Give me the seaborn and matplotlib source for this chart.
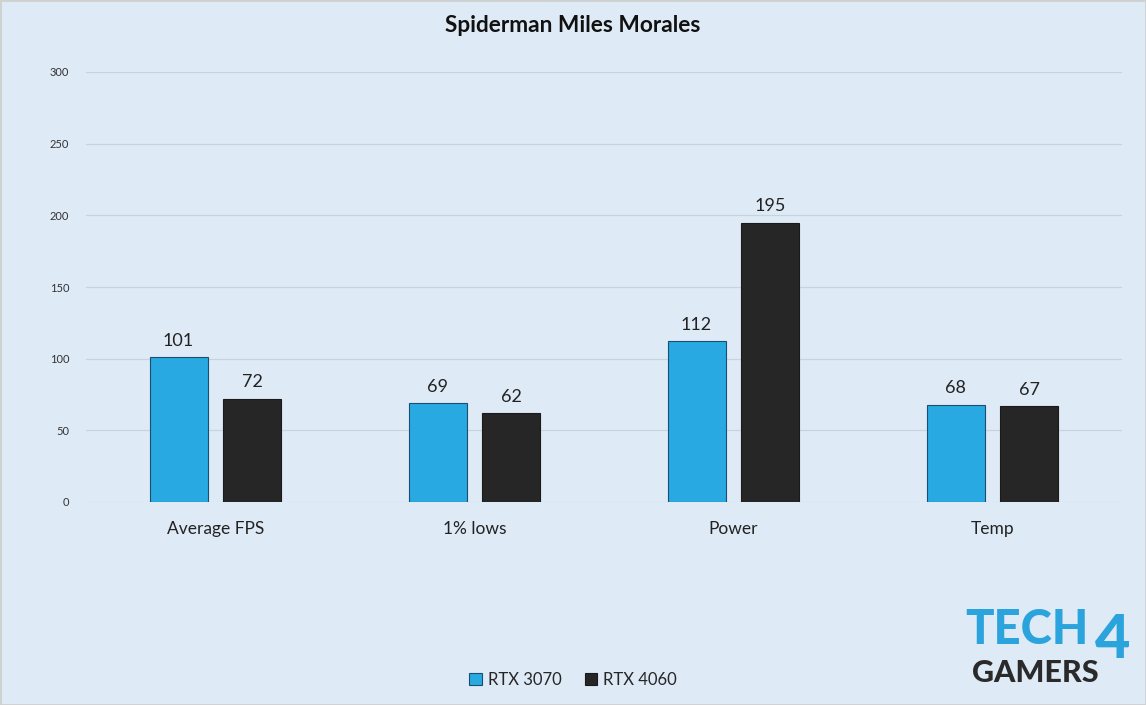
import matplotlib
matplotlib.use("Agg")
import matplotlib.pyplot as plt
import seaborn as sns
import pandas as pd
from matplotlib.patches import Patch

categories = ["Average FPS", "1% lows", "Power", "Temp"]
series_names = ["RTX 3070", "RTX 4060"]
rtx3070 = [101, 69, 112, 68]
rtx4060 = [72, 62, 195, 67]
y_ticks = [0, 50, 100, 150, 200, 250, 300]
title = "Spiderman Miles Morales"

bg = "#DEEAF6"
colors = ["#29A9E1", "#262626"]
edges = ["#1B4F72", "#1A1A1A"]

df = pd.DataFrame({
    "Metric": categories * 2,
    "GPU": [series_names[0]] * 4 + [series_names[1]] * 4,
    "Value": rtx3070 + rtx4060,
})

sns.set_theme(style="white")
plt.rcParams["font.family"] = ["Lato", "DejaVu Sans"]

fig = plt.figure(figsize=(11.46, 7.05), dpi=100, facecolor=bg)
ax = fig.add_axes([86 / 1146, 1 - 502 / 705, 1036 / 1146, 430 / 705])
ax.set_facecolor(bg)

sns.barplot(data=df, x="Metric", y="Value", hue="GPU", order=categories,
            hue_order=series_names, palette=colors, width=0.571, gap=0.216,
            saturation=1, ax=ax, legend=False)

for i, cont in enumerate(ax.containers):
    for p in cont:
        p.set_edgecolor(edges[i])
        p.set_linewidth(0.8)
    ax.bar_label(cont, labels=[str(v) for v in (rtx3070 if i == 0 else rtx4060)],
                 padding=6, fontsize=13, color="#222222")

ax.set_ylim(0, 300)
ax.set_xlim(-0.5, 3.5)
ax.set_yticks(y_ticks)
ax.set_yticklabels([str(t) for t in y_ticks], fontsize=8, color="#333333")
ax.tick_params(axis="y", length=0, pad=12)
ax.tick_params(axis="x", length=0, pad=14, labelsize=12.5, labelcolor="#222222")
ax.grid(axis="y", color="#C9D3DF", linewidth=0.9)
ax.set_axisbelow(True)
for s in ax.spines.values():
    s.set_visible(False)
ax.set_xlabel("")
ax.set_ylabel("")

fig.text(0.5, 1 - 26 / 705, title, ha="center", va="center",
         fontsize=16.3, fontweight="bold", color="#111111")

handles = [Patch(facecolor=colors[i], edgecolor=edges[i], linewidth=0.8) for i in range(2)]
fig.legend(handles, series_names, loc="center", bbox_to_anchor=(0.5, 1 - 680 / 705),
           ncol=2, frameon=False, fontsize=12, handlelength=0.75, handleheight=0.75,
           handletextpad=0.35, columnspacing=1.4)

# watermark text approximating the logo
fig.text(965 / 1146, 1 - 630 / 705, "TECH", fontsize=34, fontweight="black",
         color="#2BA3DC", va="center", ha="left")
fig.text(1095 / 1146, 1 - 640 / 705, "4", fontsize=44, fontweight="black",
         color="#2BA3DC", va="center", ha="left")
fig.text(972 / 1146, 1 - 673 / 705, "GAMERS", fontsize=22, fontweight="black",
         color="#2A2A2A", va="center", ha="left")

fig.patches.append(plt.Rectangle((0, 0), 1, 1, transform=fig.transFigure,
                                 fill=False, edgecolor="#D0D0D0", linewidth=2))
fig.savefig("out.png", dpi=100, facecolor=bg)
